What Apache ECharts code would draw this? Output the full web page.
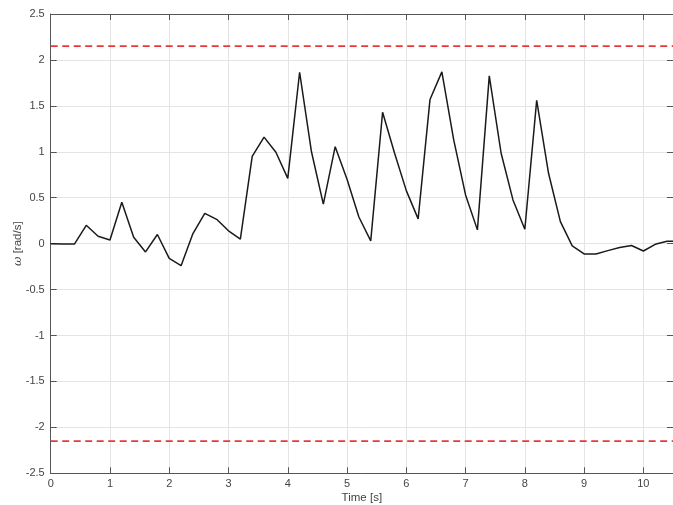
<!DOCTYPE html>
<html>
<head>
<meta charset="utf-8">
<script src="https://cdn.jsdelivr.net/npm/echarts@6/dist/echarts.min.js"></script>
<style>
  html, body { margin: 0; padding: 0; background: #fff; }
  #chart { width: 673px; height: 505px; }
</style>
</head>
<body>
<div id="chart"></div>
<script>
// Angular velocity trace, sampled every 0.2 s
const times = [0, 0.2, 0.4, 0.6, 0.8, 1.0, 1.2, 1.4, 1.6, 1.8, 2.0, 2.2, 2.4, 2.6, 2.8,
  3.0, 3.2, 3.4, 3.6, 3.8, 4.0, 4.2, 4.4, 4.6, 4.8, 5.0, 5.2, 5.4, 5.6, 5.8,
  6.0, 6.2, 6.4, 6.6, 6.8, 7.0, 7.2, 7.4, 7.6, 7.8, 8.0, 8.2, 8.4, 8.6, 8.8,
  9.0, 9.2, 9.4, 9.6, 9.8, 10.0, 10.2, 10.4, 10.5];
const omega = [0.0, -0.003, -0.005, 0.20, 0.08, 0.04, 0.45, 0.07, -0.09, 0.10, -0.16, -0.24, 0.11, 0.33, 0.265,
  0.14, 0.05, 0.95, 1.16, 0.995, 0.71, 1.866, 1.00, 0.43, 1.056, 0.70, 0.29, 0.03, 1.43, 0.99,
  0.577, 0.27, 1.57, 1.87, 1.13, 0.53, 0.15, 1.826, 0.984, 0.476, 0.157, 1.56, 0.766, 0.24, -0.025,
  -0.112, -0.112, -0.076, -0.043, -0.02, -0.08, -0.007, 0.026, 0.026];
// Velocity limits (dashed red)
const limitUpper = 2.15;
const limitLower = -2.15;
const xRange = [0, 10.5];
const yRange = [-2.5, 2.5];

const axisColor = '#555555';
const labelColor = '#444444';
const gridColor = '#e4e4e4';
const font = 'Liberation Sans, Arial, Helvetica, sans-serif';

const chart = echarts.init(document.getElementById('chart'), null, { renderer: 'canvas' });

const traceData = times.map((t, i) => [t, omega[i]]);
const upperData = xRange.map(x => [x, limitUpper]);
const lowerData = xRange.map(x => [x, limitLower]);

chart.setOption({
  animation: false,
  backgroundColor: '#ffffff',
  grid: { left: 50.7, right: 0, top: 14, bottom: 31.7, containLabel: false, outerBoundsMode: 'none' },
  xAxis: [{
    type: 'value', min: xRange[0], max: xRange[1], interval: 1,
    name: 'Time [s]', nameLocation: 'middle', nameGap: 19, nameMoveOverlap: false,
    nameTextStyle: { color: labelColor, fontSize: 11.5, fontFamily: font },
    axisLine: { show: true, onZero: false, lineStyle: { color: axisColor, width: 1 } },
    axisTick: { show: true, inside: true, length: 6, lineStyle: { color: axisColor } },
    axisLabel: { color: labelColor, fontSize: 11, fontFamily: font, margin: 5, showMaxLabel: false },
    splitLine: { show: true, lineStyle: { color: gridColor, width: 1 } }
  }, {
    type: 'value', position: 'top', min: xRange[0], max: xRange[1], interval: 1,
    axisLine: { show: true, onZero: false, lineStyle: { color: axisColor, width: 1 } },
    axisTick: { show: true, inside: true, length: 6, lineStyle: { color: axisColor } },
    axisLabel: { show: false },
    splitLine: { show: false }
  }],
  yAxis: [{
    type: 'value', min: yRange[0], max: yRange[1], interval: 0.5,
    name: '{w|ω} [rad/s]', nameLocation: 'middle', nameGap: 27, nameRotate: 90, nameMoveOverlap: false,
    nameTextStyle: {
      color: labelColor, fontSize: 11.5, fontFamily: font,
      rich: { w: { fontStyle: 'italic', fontFamily: 'DejaVu Serif, serif', fontSize: 11.5, color: labelColor } }
    },
    axisLine: { show: true, onZero: false, lineStyle: { color: axisColor, width: 1 } },
    axisTick: { show: true, inside: true, length: 6, lineStyle: { color: axisColor } },
    axisLabel: { color: labelColor, fontSize: 11, fontFamily: font, margin: 6 },
    splitLine: { show: true, lineStyle: { color: gridColor, width: 1 } }
  }, {
    type: 'value', position: 'right', min: yRange[0], max: yRange[1], interval: 0.5,
    axisLine: { show: true, onZero: false, lineStyle: { color: axisColor, width: 1 } },
    axisTick: { show: true, inside: true, length: 6, lineStyle: { color: axisColor } },
    axisLabel: { show: false },
    splitLine: { show: false }
  }],
  series: [{
    type: 'line', data: upperData, symbol: 'none',
    lineStyle: { color: '#e8383a', width: 1.6, type: [7, 4.5] }, z: 3
  }, {
    type: 'line', data: lowerData, symbol: 'none',
    lineStyle: { color: '#e8383a', width: 1.6, type: [7, 4.5] }, z: 3
  }, {
    type: 'line', data: traceData, symbol: 'none',
    lineStyle: { color: '#1a1a1a', width: 1.5 }, z: 4
  }]
});
</script>
</body>
</html>
